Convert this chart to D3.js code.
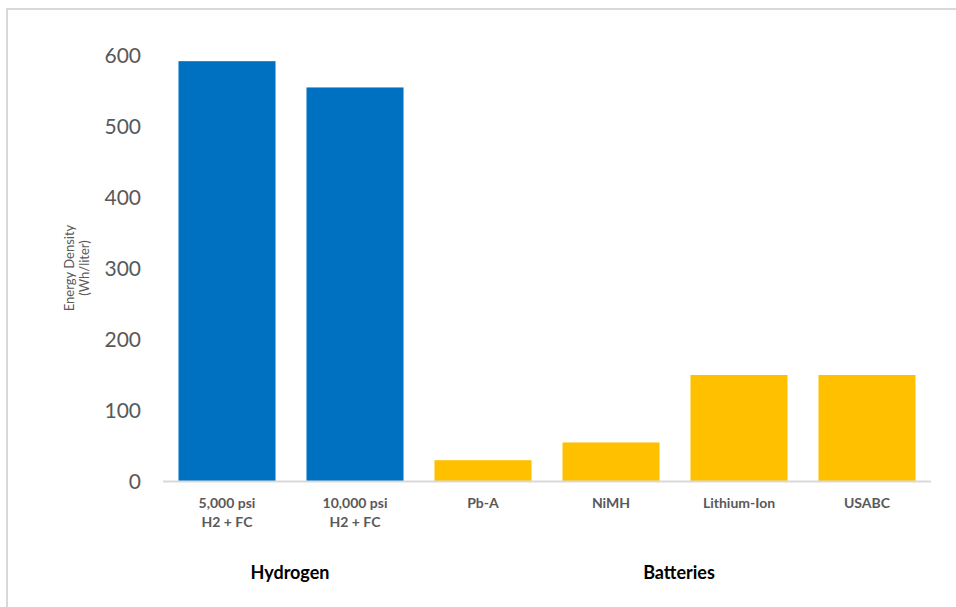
<!DOCTYPE html>
<html>
<head>
<meta charset="utf-8">
<script src="https://cdn.jsdelivr.net/npm/d3@7"></script>
<style>
  html, body { margin: 0; padding: 0; background: #fff; }
  svg { display: block; }
  text { font-family: Lato, "Open Sans", sans-serif; }
</style>
</head>
<body>
<svg id="chart" width="956" height="607"></svg>
<script>
// Energy density by storage technology (Wh/liter)
const categories = ["5,000 psi\nH2 + FC", "10,000 psi\nH2 + FC", "Pb-A", "NiMH", "Lithium-Ion", "USABC"];
const values = [592, 555, 30, 55, 150, 150];
const groups = ["Hydrogen", "Hydrogen", "Batteries", "Batteries", "Batteries", "Batteries"];
const groupNames = ["Hydrogen", "Batteries"];
const yTicks = [0, 100, 200, 300, 400, 500, 600];
const yTitle = ["Energy Density", "(Wh/liter)"];

const colorByGroup = { Hydrogen: "#0070c0", Batteries: "#ffc000" };

const svg = d3.select("#chart");
const W = 956, H = 607;
const plot = { left: 163, right: 931, top: 55.5, bottom: 481.5 };

// outer frame
svg.append("rect")
  .attr("x", 7).attr("y", 9)
  .attr("width", W + 20).attr("height", H + 20)
  .attr("fill", "none")
  .attr("stroke", "#d9d9d9")
  .attr("stroke-width", 2);

const x = d3.scaleBand()
  .domain(d3.range(categories.length))
  .range([plot.left, plot.right])
  .paddingInner(0.242)
  .paddingOuter(0.121);

const y = d3.scaleLinear()
  .domain([0, 600])
  .range([plot.bottom, plot.top]);

// y axis labels (no axis line)
const yAxis = d3.axisLeft(y).tickValues(yTicks).tickSize(0).tickPadding(0);
const yg = svg.append("g").attr("transform", `translate(141,0)`).call(yAxis);
yg.select(".domain").remove();
yg.selectAll("text")
  .attr("font-family", "Lato, 'Open Sans', sans-serif")
  .attr("font-size", 21)
  .attr("fill", "#595959")
  .attr("dy", "0.35em");

// y axis title
const yt = svg.append("text")
  .attr("transform", `translate(74,268) rotate(-90)`)
  .attr("text-anchor", "middle")
  .attr("font-size", 13)
  .attr("fill", "#595959");
yTitle.forEach((line, i) => {
  yt.append("tspan").attr("x", 0).attr("dy", i === 0 ? 0 : 15).text(line);
});

// bars
svg.append("g").selectAll("rect")
  .data(values)
  .join("rect")
  .attr("x", (d, i) => x(i))
  .attr("width", x.bandwidth())
  .attr("y", d => y(d))
  .attr("height", d => y(0) - y(d))
  .attr("fill", (d, i) => colorByGroup[groups[i]]);

// baseline
svg.append("line")
  .attr("x1", plot.left).attr("x2", plot.right)
  .attr("y1", plot.bottom).attr("y2", plot.bottom)
  .attr("stroke", "#d9d9d9")
  .attr("stroke-width", 2);

// category labels
const xl = svg.append("g").selectAll("text")
  .data(categories)
  .join("text")
  .attr("text-anchor", "middle")
  .attr("font-size", 14)
  .attr("font-weight", "bold")
  .attr("fill", "#595959");
xl.each(function(d, i) {
  const t = d3.select(this);
  d.split("\n").forEach((line, j) => {
    t.append("tspan")
      .attr("x", x(i) + x.bandwidth() / 2)
      .attr("y", 508 + j * 19)
      .text(line);
  });
});

// group labels
groupNames.forEach(g => {
  const idx = d3.range(categories.length).filter(i => groups[i] === g);
  const cx = d3.mean(idx, i => x(i) + x.bandwidth() / 2);
  svg.append("text")
    .attr("x", g === "Batteries" ? cx + 4 : cx - 1)
    .attr("y", 579)
    .attr("text-anchor", "middle")
    .attr("font-size", 18)
    .attr("font-weight", "bold")
    .attr("fill", "#000")
    .text(g);
});
</script>
</body>
</html>
